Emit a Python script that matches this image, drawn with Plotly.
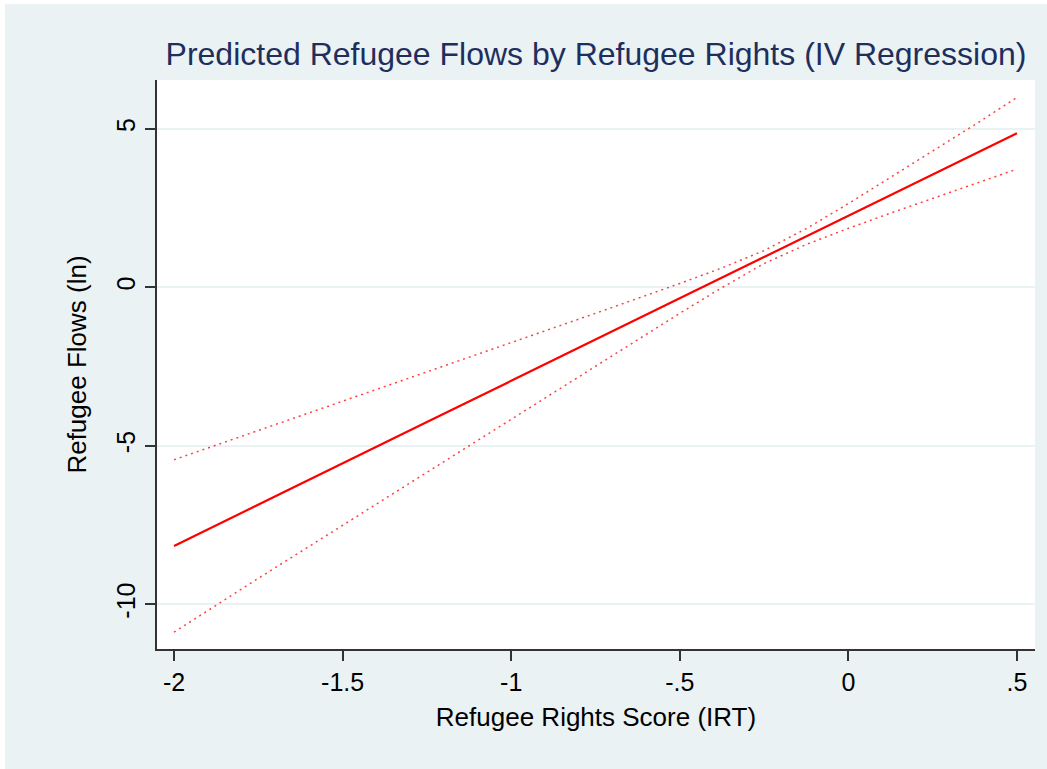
import plotly.graph_objects as go

# Data
rights_score = [-2, -1.75, -1.5, -1.25, -1, -0.75, -0.5, -0.375, -0.25, -0.125, 0, 0.125, 0.25, 0.375, 0.5]
predicted = [-8.16, -6.85, -5.55, -4.25, -2.95, -1.65, -0.35, 0.30, 0.95, 1.60, 2.25, 2.90, 3.55, 4.20, 4.86]
ci_upper = [-5.44, -4.52, -3.59, -2.67, -1.74, -0.82, 0.12, 0.61, 1.16, 1.85, 2.64, 3.46, 4.30, 5.13, 5.99]
ci_lower = [-10.88, -9.18, -7.51, -5.84, -4.16, -2.48, -0.82, -0.01, 0.75, 1.35, 1.86, 2.34, 2.81, 3.27, 3.73]

x_ticks = [-2, -1.5, -1, -0.5, 0, 0.5]
x_ticklabels = ["-2", "-1.5", "-1", "-.5", "0", ".5"]
y_ticks = [-10, -5, 0, 5]
y_ticklabels = ["-10", "-5", "0", "5"]

BG = "#EAF2F3"
FONT = "Liberation Sans, Arial, Helvetica, sans-serif"

fig = go.Figure()
fig.add_trace(go.Scatter(x=rights_score, y=ci_upper, mode="lines",
                         line=dict(color="rgba(255,0,0,0.75)", width=1.5, dash="2px,4px"),
                         showlegend=False, hoverinfo="skip"))
fig.add_trace(go.Scatter(x=rights_score, y=ci_lower, mode="lines",
                         line=dict(color="rgba(255,0,0,0.75)", width=1.5, dash="2px,4px"),
                         showlegend=False, hoverinfo="skip"))
fig.add_trace(go.Scatter(x=rights_score, y=predicted, mode="lines",
                         line=dict(color="#FF0000", width=2.2),
                         showlegend=False))

fig.update_layout(
    width=1047, height=769,
    paper_bgcolor=BG, plot_bgcolor="white",
    margin=dict(l=157, r=12, t=80, b=120, pad=0),
    font=dict(family=FONT, color="black", size=25),
    title=dict(text="Predicted Refugee Flows by Refugee Rights (IV Regression)",
               font=dict(family=FONT, size=32, color="#1E2F5E"),
               x=(157 + 1035) / 2 / 1047, xanchor="center",
               y=1 - 54 / 769, yanchor="middle"),
    xaxis=dict(range=[-2.0505, 0.5535], tickvals=x_ticks, ticktext=x_ticklabels,
               showgrid=False, zeroline=False, showline=True, linecolor="#333333", linewidth=1.5,
               ticks="outside", ticklen=10, tickwidth=1.5, tickcolor="#333333",
               tickfont=dict(size=25, color="black"),
               title=dict(text="Refugee Rights Score (IRT)", font=dict(size=26, color="black"), standoff=13)),
    yaxis=dict(range=[-11.41, 6.54], tickvals=y_ticks, ticktext=y_ticklabels,
               showgrid=True, gridcolor=BG, gridwidth=2, zeroline=False,
               showline=True, linecolor="#333333", linewidth=1.5,
               ticks="outside", ticklen=10, tickwidth=1.5, tickcolor="#333333",
               tickangle=-90, tickfont=dict(size=25, color="black"),
               title=dict(text="Refugee Flows (ln)", font=dict(size=26, color="black"), standoff=18)),
    shapes=[
        dict(type="rect", xref="paper", yref="paper", x0=-0.1788, x1=-0.1731, y0=-0.22, y1=1.15,
             fillcolor="white", line=dict(width=0), layer="above"),
        dict(type="rect", xref="paper", yref="paper", x0=-0.1788, x1=1.02, y0=1.1336, y1=1.15,
             fillcolor="white", line=dict(width=0), layer="above"),
    ],
)

fig.write_html("out.html", config={"displayModeBar": False},
               post_script="document.body.style.margin='0';")
